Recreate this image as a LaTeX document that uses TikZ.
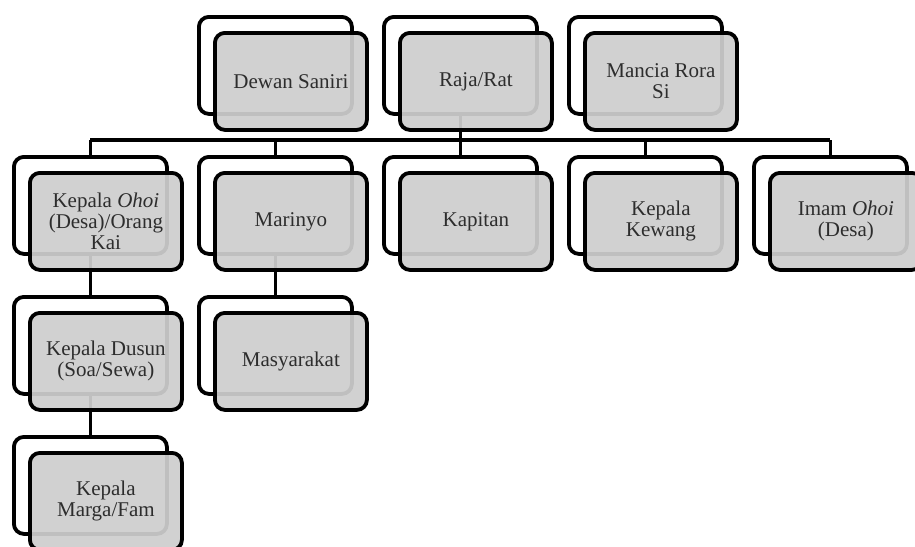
\documentclass[tikz,border=0pt]{standalone}
\usepackage{fontspec}
\setmainfont{Liberation Serif}
\definecolor{boxgray}{RGB}{206,206,206}
\definecolor{txtgray}{RGB}{45,45,45}
\begin{document}
\begin{tikzpicture}[x=1pt,y=-1pt,
  backbox/.style={draw=black, line width=3.8pt, rounded corners=10pt, fill=white,
    minimum width=153pt, minimum height=97pt, anchor=north west, inner sep=0pt},
  frontbox/.style={draw=black, line width=3.8pt, rounded corners=10pt, fill=boxgray,
    fill opacity=0.93, text opacity=1, text=txtgray,
    minimum width=152pt, minimum height=97pt, anchor=north west, inner sep=0pt,
    align=center, font=\fontsize{21}{21}\selectfont},
  conn/.style={draw=black, line width=3.2pt}
]
\useasboundingbox (0,0) rectangle (915,546);

% back boxes
\node[backbox] (dewan-b)  at (197,15) {};
\node[backbox] (raja-b)   at (382,15) {};
\node[backbox] (mancia-b) at (567,15) {};
\node[backbox] (ohoi-b)   at (12,155) {};
\node[backbox] (mari-b)   at (197,155) {};
\node[backbox] (kap-b)    at (382,155) {};
\node[backbox] (kew-b)    at (567,155) {};
\node[backbox] (imam-b)   at (752,155) {};
\node[backbox] (dusun-b)  at (12,295) {};
\node[backbox] (masy-b)   at (197,295) {};
\node[backbox] (marga-b)  at (12,435) {};

% connectors
\coordinate (bus) at (0,140);
\draw[conn] (ohoi-b.north |- bus) -- (imam-b.north |- bus);
\draw[conn] (raja-b.south) -- (raja-b.south |- bus);
\foreach \n in {ohoi,mari,kap,kew,imam}
  \draw[conn] (\n-b.north |- bus) -- (\n-b.north);
\draw[conn] (ohoi-b.south) -- (dusun-b.north);
\draw[conn] (dusun-b.south) -- (marga-b.north);
\draw[conn] (mari-b.south) -- (masy-b.north);

% front boxes
\node[frontbox] (dewan)  at (213,31)  {Dewan Saniri};
\node[frontbox] (raja)   at (398,31)  {Raja/Rat};
\node[frontbox] (mancia) at (583,31)  {Mancia Rora\\Si};
\node[frontbox] (ohoi)   at (28,171)  {Kepala \textit{Ohoi}\\(Desa)/Orang\\Kai};
\node[frontbox] (mari)   at (213,171) {Marinyo};
\node[frontbox] (kap)    at (398,171) {Kapitan};
\node[frontbox] (kew)    at (583,171) {Kepala\\Kewang};
\node[frontbox] (imam)   at (768,171) {Imam \textit{Ohoi}\\(Desa)};
\node[frontbox] (dusun)  at (28,311)  {Kepala Dusun\\(Soa/Sewa)};
\node[frontbox] (masy)   at (213,311) {Masyarakat};
\node[frontbox] (marga)  at (28,451)  {Kepala\\Marga/Fam};
\end{tikzpicture}
\end{document}
